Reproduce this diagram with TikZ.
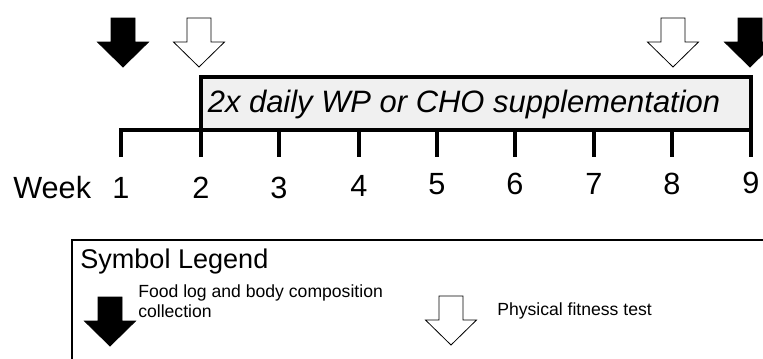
\documentclass[tikz,border=0pt]{standalone}
\usepackage{fontspec}
\setmainfont{Liberation Sans}
\usetikzlibrary{positioning}

\definecolor{supfill}{HTML}{F0F0F0}

\tikzset{
  marker/.pic={\draw[fill=#1, line width=0.6pt] (0,0) -- (-25.5,-25) -- (-12,-25) -- (-12,-49) -- (12,-49) -- (12,-25) -- (25.5,-25) -- cycle;},
  heavy/.style={line width=2.8pt},
  weeklabel/.style={font=\fontsize{23}{26}\selectfont, inner sep=0pt, anchor=base},
  legendtext/.style={font=\fontsize{13.2}{15}\selectfont, align=left, inner sep=0pt, anchor=base west},
}

\begin{document}
\begin{tikzpicture}[x=0.75pt, y=-0.75pt]
\clip (0,0) rectangle (763,358);

% timeline
\node[weeklabel, anchor=base west] (week) at (13,198) {Week};
\foreach \w/\x/\y in {1/121/198,2/201/198,3/279/198,4/359/196,5/437/194,6/515/194,7/594/194,8/672/194,9/751/193}{
  \coordinate (t\w) at (\x,130);
  \coordinate (b\w) at (\x,157);
  \node[weeklabel] (w\w) at (\x,\y) {\w};
}
\coordinate (boxl) at (201,77);
\coordinate (boxr) at (751,77);
\fill[supfill] (t2) rectangle (boxr);
\draw[heavy] (b1) -- (t1) -- (t9);
\draw[heavy] (b2) -- (boxl) -- (boxr) -- (b9);
\foreach \w in {3,...,8}{
  \draw[heavy] (t\w) -- (b\w);
}
\node[font=\fontsize{23.2}{26}\selectfont\itshape, inner sep=0pt, anchor=base] (supp) at (464,112) {2x daily WP or CHO supplementation};

% markers
\pic at (123,67) {marker=black};
\pic at (199,67) {marker=white};
\pic at (673,67) {marker=white};
\pic at (750,67) {marker=black};

% legend
\draw[line width=1.6pt] (72,400) -- (72,240) -- (800,240);
\node[font=\fontsize{20.3}{22}\selectfont, inner sep=0pt, anchor=base west] (leg) at (80,268) {Symbol Legend};
\pic at (110,346) {marker=black};
\node[legendtext] (food) at (138,317) {Food log and body composition\\collection};
\pic at (451,345) {marker=white};
\node[legendtext] (fit) at (497,315) {Physical fitness test};
\end{tikzpicture}
\end{document}
